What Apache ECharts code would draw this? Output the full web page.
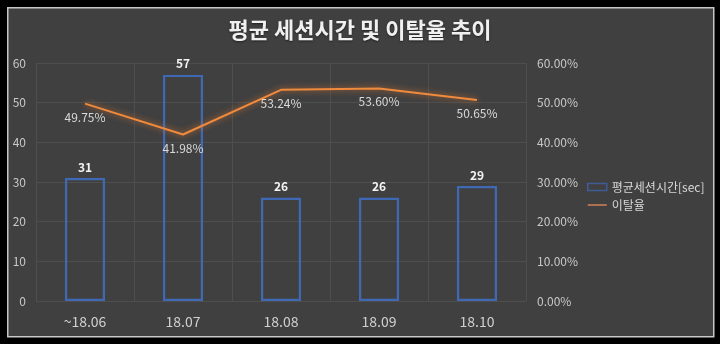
<!DOCTYPE html>
<html><head><meta charset="utf-8">
<script src="https://cdn.jsdelivr.net/npm/echarts@6/dist/echarts.min.js"></script>
<style>html,body{margin:0;padding:0;background:#000;}#c{width:720px;height:344px;}</style>
</head><body><div id="c"></div>
<script>
const categories = ['~18.06', '18.07', '18.08', '18.09', '18.10'];
const sessionTime = [31, 57, 26, 26, 29];
const bounceRate = [49.75, 41.98, 53.24, 53.60, 50.65];
const leftTicks = [0, 60, 10];
const rightTicks = [0, 60, 10];

const chart = echarts.init(document.getElementById('c'), null, {renderer: 'canvas'});
const font = '"Noto Sans CJK KR", "Noto Sans", sans-serif';
chart.setOption({
  backgroundColor: '#000',
  animation: false,
  graphic: [{
    type: 'rect', left: 7, top: 7, z: -10,
    shape: {width: 706, height: 329},
    style: {fill: '#404040', stroke: '#c8c8c8', lineWidth: 1.5}
  }],
  title: {
    text: '평균 세션시간 및 이탈율 추이', left: 'center', top: 14,
    textStyle: {color: '#f0f0f0', fontSize: 22, fontWeight: 'bold', fontFamily: font,
      textShadowColor: 'rgba(0,0,0,0.5)', textShadowBlur: 2, textShadowOffsetY: 1}
  },
  legend: {
    orient: 'vertical', left: 582, top: 176, itemGap: 6, itemWidth: 19, itemHeight: 7,
    textStyle: {color: '#d9d9d9', fontSize: 12, fontFamily: font},
    data: [
      {name: '평균세션시간[sec]', icon: 'rect', itemStyle: {color: 'transparent', borderColor: '#3f5c98', borderWidth: 1.5}},
      {name: '이탈율', icon: 'path://M0,4 L20,4 L20,5.5 L0,5.5 Z', itemStyle: {color: '#dd8557', opacity: 1, borderWidth: 0}}
    ]
  },
  grid: {left: 36, right: 194, top: 63, bottom: 43},
  xAxis: {
    type: 'category', data: categories,
    axisLine: {show: false}, axisTick: {show: false},
    axisLabel: {color: '#d0d0d0', fontSize: 14, margin: 14, fontFamily: font},
    splitLine: {show: true, lineStyle: {color: '#4e4e4e', width: 1}}
  },
  yAxis: [{
    type: 'value', min: leftTicks[0], max: leftTicks[1], interval: leftTicks[2],
    axisLine: {show: false}, axisTick: {show: false},
    axisLabel: {color: '#c8c8c8', fontSize: 12, margin: 10, fontFamily: font},
    splitLine: {lineStyle: {color: '#4e4e4e', width: 1}}
  }, {
    type: 'value', min: rightTicks[0], max: rightTicks[1], interval: rightTicks[2],
    axisLine: {show: false}, axisTick: {show: false},
    axisLabel: {color: '#c8c8c8', fontSize: 12, margin: 11, fontFamily: font,
      formatter: v => v.toFixed(2) + '%'},
    splitLine: {show: false}
  }],
  series: [{
    name: '평균세션시간[sec]', type: 'bar', data: sessionTime, barWidth: 40,
    itemStyle: {color: 'transparent', borderColor: '#3f68b5', borderWidth: 2.2},
    label: {show: true, position: 'top', distance: 5, color: '#f2f2f2', fontSize: 12, fontWeight: 'bold', fontFamily: font}
  }, {
    name: '이탈율', type: 'line', yAxisIndex: 1, data: bounceRate,
    symbol: 'circle', symbolSize: 1, showSymbol: true,
    lineStyle: {color: '#f08a3c', width: 2, shadowColor: 'rgba(237,125,49,0.8)', shadowBlur: 6},
    itemStyle: {color: 'rgba(0,0,0,0)', borderWidth: 0},
    label: {show: true, position: 'bottom', distance: 7, color: '#d9d9d9', fontSize: 12, fontFamily: font,
      formatter: p => p.value.toFixed(2) + '%'}
  }]
});
</script></body></html>
